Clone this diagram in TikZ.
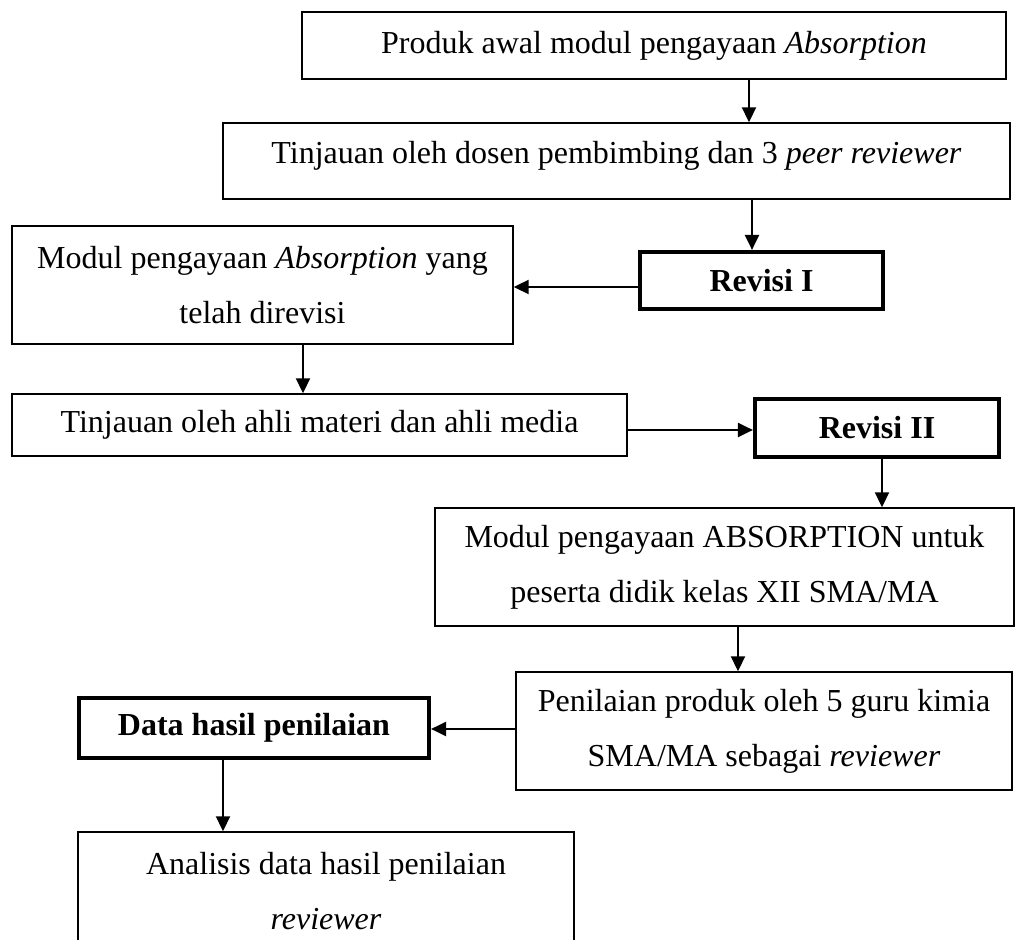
\documentclass[tikz,border=0pt]{standalone}
\usepackage{fontspec}
\setmainfont{Liberation Serif}
\usetikzlibrary{arrows.meta}
\newcommand\pxu{0.375pt}
\begin{document}
\begin{tikzpicture}[x=0.375pt,y=-0.375pt,
 box/.style={draw, line width=0.6pt, inner sep=0pt, align=center, font=\fontsize{12pt}{20.7pt}\selectfont},
 boldbox/.style={box, line width=1.6pt, font=\fontsize{12pt}{20.7pt}\selectfont\bfseries},
 arr/.style={-{Triangle[length=5.6pt,width=5.3pt]}, line width=0.7pt}]
\useasboundingbox (0,0) rectangle (1016,940);
\clip (0,0) rectangle (1016,940);
\node[box, minimum width=704*\pxu, minimum height=67*\pxu] (b1) at (654,45.5) {Produk awal modul pengayaan \textit{Absorption}};
\node[box, minimum width=787*\pxu, minimum height=76*\pxu, text height=8pt, text depth=5.75pt] (b2) at (616.5,161) {Tinjauan oleh dosen pembimbing dan 3 \textit{peer reviewer}};
\node[box, minimum width=501*\pxu, minimum height=118*\pxu] (b3) at (262.5,285) {Modul pengayaan \textit{Absorption} yang\\telah direvisi};
\node[boldbox, minimum width=243*\pxu, minimum height=57*\pxu] (r1) at (761.5,280.5) {Revisi I};
\node[box, minimum width=615*\pxu, minimum height=62*\pxu] (b5) at (319.5,425) {Tinjauan oleh ahli materi dan ahli media};
\node[boldbox, minimum width=244*\pxu, minimum height=58*\pxu] (r2) at (877,428) {Revisi II};
\node[box, minimum width=579*\pxu, minimum height=118*\pxu] (b7) at (724.5,567) {Modul pengayaan ABSORPTION untuk\\peserta didik kelas XII SMA/MA};
\node[box, minimum width=496*\pxu, minimum height=118*\pxu] (b8) at (764,731) {Penilaian produk oleh 5 guru kimia\\SMA/MA sebagai \textit{reviewer}};
\node[boldbox, minimum width=350*\pxu, minimum height=60*\pxu] (d) at (254,728) {Data hasil penilaian};
\node[box, minimum width=496*\pxu, minimum height=118*\pxu] (b10) at (326,891) {Analisis data hasil penilaian\\\textit{reviewer}};
\draw[arr] (749,0 |- b1.south) -- (749,0 |- b2.north);
\draw[arr] (752,0 |- b2.south) -- (752,0 |- r1.north);
\draw[arr] (r1.west |- 0,287) -- (b3.east |- 0,287);
\draw[arr] (303,0 |- b3.south) -- (303,0 |- b5.north);
\draw[arr] (b5.east |- 0,430) -- (r2.west |- 0,430);
\draw[arr] (882,0 |- r2.south) -- (882,0 |- b7.north);
\draw[arr] (738,0 |- b7.south) -- (738,0 |- b8.north);
\draw[arr] (b8.west |- 0,729) -- (d.east |- 0,729);
\draw[arr] (223,0 |- d.south) -- (223,0 |- b10.north);
\end{tikzpicture}
\end{document}
